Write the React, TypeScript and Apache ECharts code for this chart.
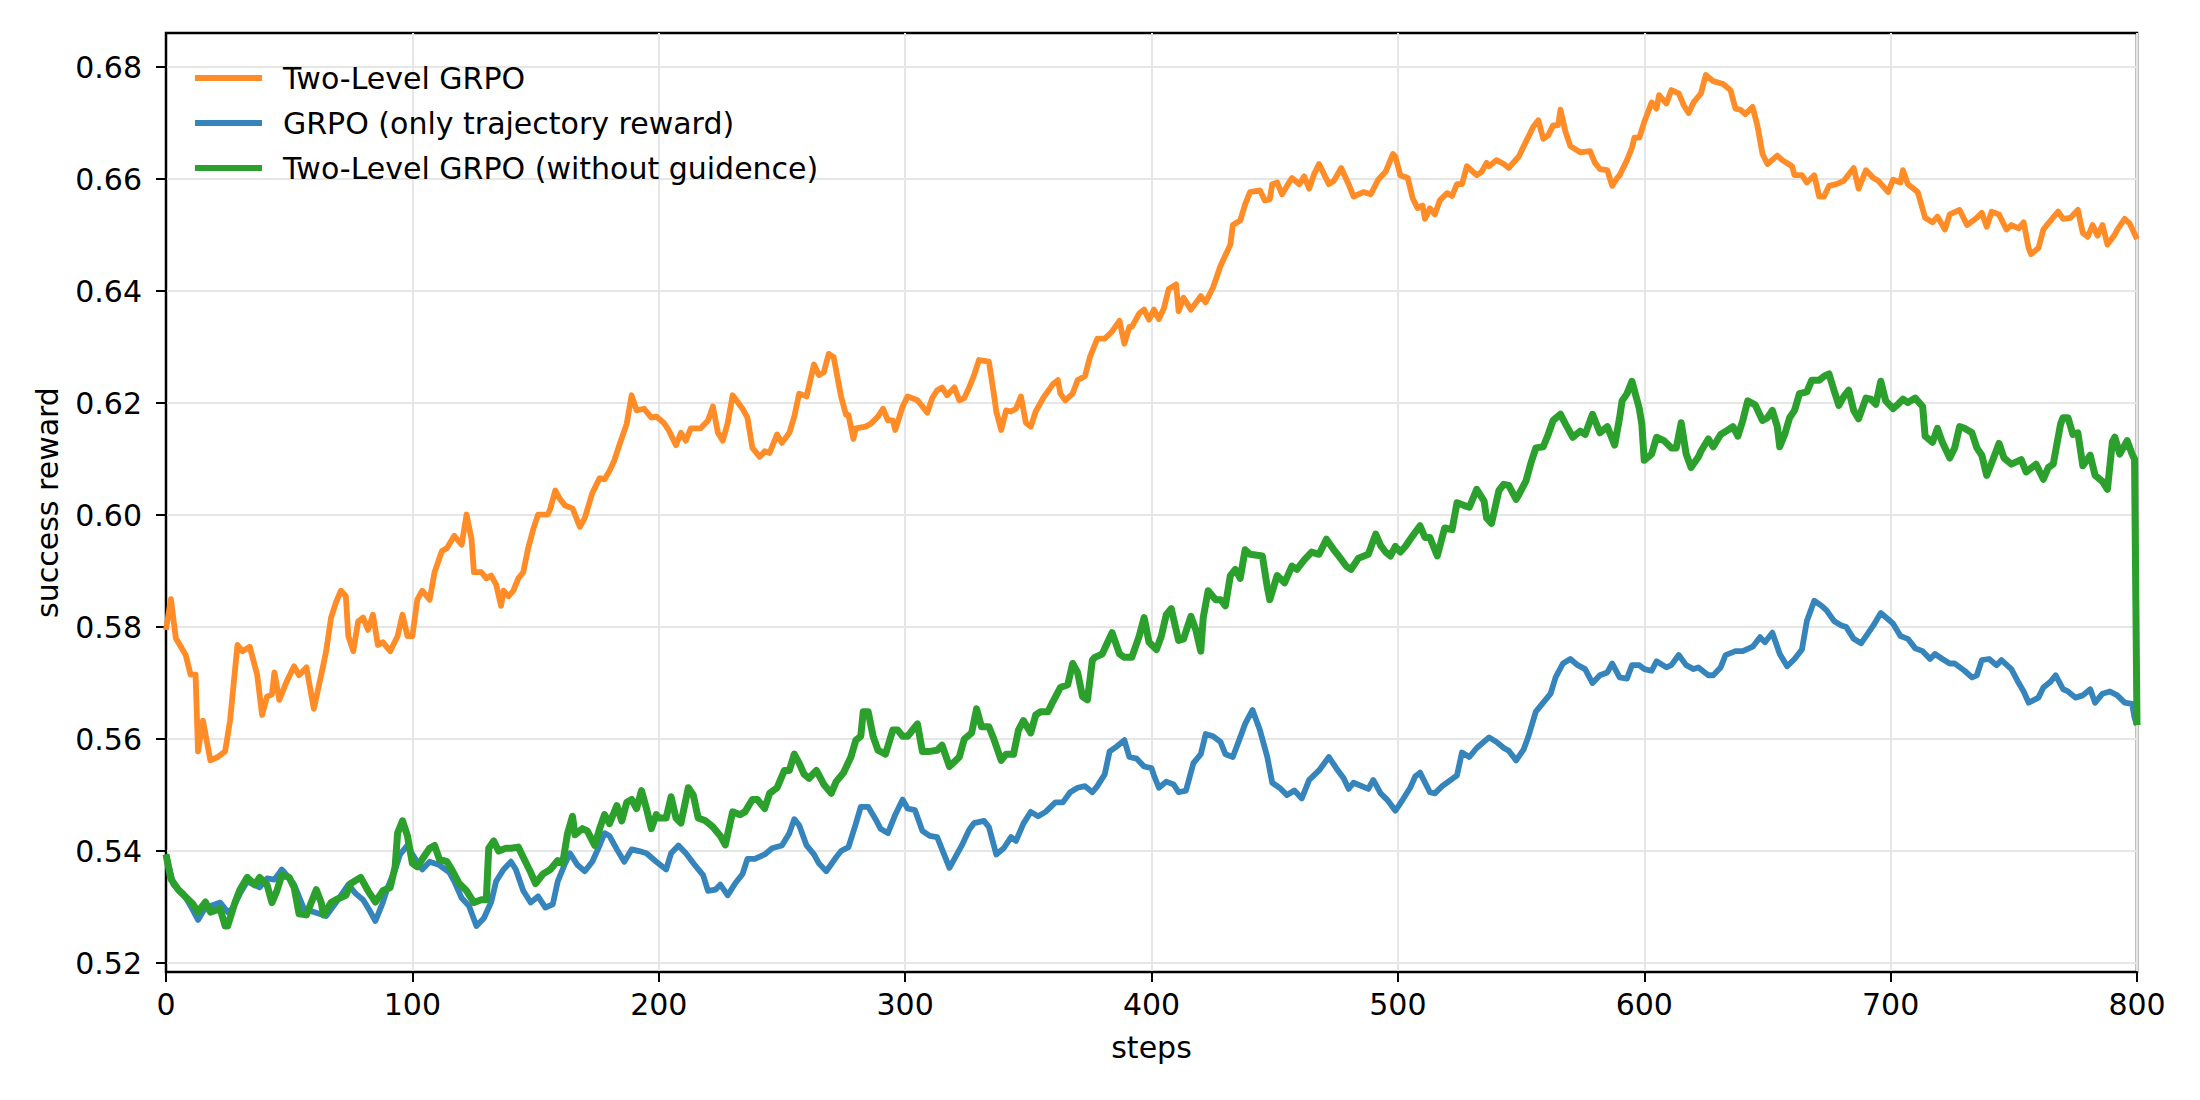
import { useEffect, useRef } from 'react';
import * as echarts from 'echarts';

// steps / reward, one pair of arrays per run
const twoLevelSteps = [
  0, 2, 4, 8, 10, 12, 13, 15, 18, 21, 24, 26, 29, 31, 34, 37, 39, 41, 43, 44, 46, 49, 52, 54, 57, 60, 64, 65, 67, 69,
  71, 73, 74, 76, 78, 80, 82, 84, 86, 88, 91, 94, 96, 98, 100, 102, 104, 107, 109, 112, 114, 117, 120, 122, 124, 125,
  128, 130, 132, 134, 136, 137, 139, 141, 143, 145, 147, 149, 151, 155, 156, 158, 160, 162, 165, 168, 170, 173, 176,
  178, 180, 182, 184, 187, 189, 191, 194, 197, 199, 202, 204, 207, 209, 211, 213, 217, 220, 222, 224, 226, 228, 230,
  234, 236, 238, 241, 243, 245, 248, 250, 253, 255, 257, 260, 263, 265, 267, 269, 271, 274, 276, 277, 279, 280, 284,
  286, 289, 291, 293, 295, 296, 299, 301, 305, 309, 311, 313, 315, 317, 320, 322, 324, 326, 328, 330, 334, 336, 337,
  339, 341, 343, 345, 347, 349, 351, 353, 356, 360, 362, 363, 365, 368, 370, 373, 375, 378, 381, 384, 387, 389, 391,
  392, 395, 397, 399, 401, 403, 405, 407, 410, 411, 413, 416, 420, 422, 425, 428, 432, 433, 436, 438, 440, 444, 446,
  448, 449, 451, 453, 455, 457, 460, 462, 464, 466, 468, 472, 474, 477, 480, 482, 486, 489, 492, 495, 498, 499, 501,
  504, 506, 508, 510, 511, 513, 515, 517, 520, 522, 524, 526, 528, 532, 534, 536, 537, 540, 543, 545, 549, 552, 555,
  557, 559, 561, 563, 565, 566, 568, 570, 574, 578, 580, 582, 585, 587, 589, 590, 593, 595, 596, 598, 600, 603, 605,
  606, 609, 611, 614, 616, 618, 620, 623, 625, 628, 632, 635, 637, 639, 641, 644, 646, 648, 650, 654, 656, 660, 661,
  664, 666, 669, 671, 673, 675, 678, 681, 685, 687, 690, 693, 695, 699, 701, 704, 705, 707, 711, 714, 717, 719, 721,
  722, 724, 728, 731, 735, 737, 739, 741, 744, 747, 749, 752, 754, 756, 757, 760, 762, 764, 768, 770, 773, 776, 778,
  780, 782, 784, 786, 788, 791, 792, 795, 797, 800,
];
const twoLevelReward = [
  0.5795, 0.585, 0.578, 0.575, 0.5715, 0.5715, 0.5578, 0.5633, 0.5562, 0.5568, 0.5578, 0.5633, 0.5768, 0.5757, 0.5765,
  0.5715, 0.5643, 0.5676, 0.568, 0.5719, 0.567, 0.5703, 0.573, 0.5714, 0.5728, 0.5654, 0.5735, 0.5757, 0.5817, 0.5844,
  0.5865, 0.5855, 0.5784, 0.5757, 0.581, 0.5817, 0.5795, 0.5822, 0.5768, 0.5773, 0.5757, 0.5784, 0.5822, 0.5784,
  0.5784, 0.5849, 0.5865, 0.5849, 0.5898, 0.5936, 0.5941, 0.5963, 0.5947, 0.6001, 0.5957, 0.5898, 0.5898, 0.5887,
  0.5892, 0.5876, 0.5838, 0.5865, 0.5855, 0.5865, 0.5887, 0.5898, 0.5941, 0.5974, 0.6001, 0.6001, 0.6012, 0.6044,
  0.6028, 0.6017, 0.6012, 0.5979, 0.5995, 0.6039, 0.6066, 0.6064, 0.6079, 0.6098, 0.6125, 0.6163, 0.6214, 0.6187,
  0.619, 0.6174, 0.6176, 0.6165, 0.6152, 0.6125, 0.6147, 0.6133, 0.6155, 0.6155, 0.6169, 0.6194, 0.6147, 0.6133,
  0.6165, 0.6214, 0.619, 0.6174, 0.612, 0.6104, 0.6114, 0.6111, 0.6144, 0.6129, 0.6147, 0.6176, 0.6217, 0.6212,
  0.6269, 0.625, 0.6255, 0.6288, 0.6282, 0.6212, 0.6179, 0.6179, 0.6136, 0.6155, 0.6158, 0.6163, 0.6176, 0.619,
  0.6169, 0.6169, 0.6152, 0.6194, 0.6212, 0.6205, 0.6183, 0.6209, 0.6223, 0.6228, 0.6214, 0.6228, 0.6205, 0.6209,
  0.6228, 0.625, 0.6277, 0.6274, 0.6217, 0.6185, 0.6152, 0.6187, 0.6185, 0.619, 0.6212, 0.6165, 0.6158, 0.6185,
  0.6209, 0.6234, 0.6241, 0.6217, 0.6205, 0.6217, 0.6241, 0.6248, 0.6282, 0.6315, 0.6315, 0.6328, 0.6347, 0.6306,
  0.6336, 0.6336, 0.636, 0.6367, 0.6349, 0.6367, 0.635, 0.6369, 0.6404, 0.6412, 0.6364, 0.6388, 0.6367, 0.6391,
  0.638, 0.6407, 0.6445, 0.6483, 0.6518, 0.6526, 0.6555, 0.6577, 0.658, 0.6562, 0.6564, 0.6591, 0.6594, 0.6573,
  0.6588, 0.6602, 0.6591, 0.6605, 0.6583, 0.6609, 0.6627, 0.6591, 0.6597, 0.662, 0.6591, 0.6569, 0.6577, 0.6573,
  0.6599, 0.6613, 0.6645, 0.664, 0.6607, 0.6602, 0.6566, 0.6548, 0.6553, 0.6529, 0.6548, 0.6537, 0.6562, 0.6575,
  0.657, 0.6591, 0.6591, 0.6623, 0.6607, 0.6613, 0.6629, 0.6623, 0.6634, 0.6627, 0.662, 0.664, 0.6667, 0.6694,
  0.6705, 0.6672, 0.6678, 0.6696, 0.6696, 0.6724, 0.6685, 0.6659, 0.6648, 0.665, 0.6629, 0.6618, 0.6616, 0.6588,
  0.6602, 0.6607, 0.6634, 0.6656, 0.6674, 0.6674, 0.6702, 0.6737, 0.6726, 0.675, 0.6735, 0.6759, 0.6753, 0.6732,
  0.6718, 0.6737, 0.6753, 0.6786, 0.6775, 0.677, 0.6759, 0.6726, 0.6724, 0.6716, 0.6729, 0.6694, 0.6645, 0.6627,
  0.6642, 0.6634, 0.6623, 0.6607, 0.6607, 0.6594, 0.6607, 0.6569, 0.6569, 0.6588, 0.6591, 0.6597, 0.662, 0.6583,
  0.6616, 0.6602, 0.6597, 0.6577, 0.6599, 0.6594, 0.6616, 0.6591, 0.6577, 0.6531, 0.6523, 0.6533, 0.6518, 0.651,
  0.6537, 0.6545, 0.6518, 0.6531, 0.654, 0.6515, 0.6542, 0.6537, 0.651, 0.6518, 0.6512, 0.6523, 0.6477, 0.6466,
  0.6477, 0.651, 0.6521, 0.6542, 0.6529, 0.6531, 0.6545, 0.6504, 0.6497, 0.6518, 0.6499, 0.6518, 0.6483, 0.6501,
  0.651, 0.6529, 0.6521, 0.6493,
];

const grpoSteps = [
  0, 3, 7, 10, 13, 16, 18, 22, 25, 27, 30, 33, 38, 41, 44, 47, 49, 52, 56, 60, 65, 69, 74, 77, 80, 83, 85, 88, 90, 93,
  95, 98, 100, 104, 107, 111, 115, 117, 120, 123, 126, 129, 132, 134, 137, 140, 142, 145, 148, 151, 154, 157, 159, 162,
  164, 167, 170, 173, 176, 178, 180, 183, 186, 189, 192, 195, 199, 203, 205, 208, 211, 215, 218, 220, 223, 225, 228,
  231, 234, 236, 239, 243, 246, 250, 253, 255, 257, 260, 263, 265, 268, 272, 274, 277, 280, 282, 285, 288, 290, 293,
  296, 299, 301, 304, 307, 310, 313, 315, 318, 320, 323, 326, 328, 332, 334, 337, 340, 343, 345, 348, 351, 354, 357,
  361, 364, 367, 370, 373, 376, 378, 381, 383, 386, 389, 391, 394, 397, 400, 401, 403, 406, 409, 411, 414, 417, 420,
  422, 425, 428, 430, 433, 436, 438, 441, 444, 447, 449, 452, 455, 458, 461, 464, 468, 472, 475, 478, 480, 482, 488,
  490, 493, 496, 499, 502, 505, 507, 509, 513, 515, 518, 524, 526, 529, 532, 537, 540, 543, 545, 548, 551, 553, 556,
  559, 562, 564, 567, 570, 573, 576, 579, 582, 585, 587, 590, 593, 595, 598, 600, 603, 605, 609, 611, 614, 617, 620,
  622, 626, 628, 631, 633, 637, 640, 644, 647, 649, 652, 655, 658, 661, 664, 666, 669, 672, 674, 677, 680, 682, 685,
  688, 691, 693, 696, 699, 701, 704, 707, 710, 713, 716, 718, 721, 724, 726, 730, 733, 735, 737, 740, 743, 745, 749,
  752, 754, 756, 760, 762, 765, 767, 770, 772, 775, 778, 781, 783, 786, 789, 792, 795, 798, 799, 800,
];
const grpoReward = [
  0.5394, 0.534, 0.5324, 0.5302, 0.5277, 0.5299, 0.5302, 0.5308, 0.5291, 0.5297, 0.5324, 0.5346, 0.5335, 0.5351,
  0.5349, 0.5367, 0.5357, 0.534, 0.5297, 0.5291, 0.5284, 0.5308, 0.534, 0.5324, 0.5313, 0.5291, 0.5275, 0.5308,
  0.5335, 0.5367, 0.5394, 0.541, 0.5394, 0.5367, 0.5381, 0.5375, 0.5362, 0.5346, 0.5316, 0.5302, 0.5266, 0.528,
  0.5309, 0.5346, 0.5367, 0.5381, 0.5367, 0.5329, 0.5308, 0.5319, 0.5299, 0.5305, 0.5346, 0.5378, 0.5396, 0.5375,
  0.5364, 0.5381, 0.541, 0.5432, 0.5427, 0.5403, 0.5381, 0.5403, 0.54, 0.5396, 0.5381, 0.5367, 0.5396, 0.541, 0.5396,
  0.5373, 0.5357, 0.5329, 0.5331, 0.534, 0.5321, 0.5342, 0.5359, 0.5386, 0.5386, 0.5394, 0.5405, 0.541, 0.5432,
  0.5457, 0.5446, 0.541, 0.5394, 0.5378, 0.5364, 0.5389, 0.54, 0.5407, 0.5449, 0.5479, 0.5479, 0.5457, 0.544, 0.5432,
  0.5465, 0.5492, 0.5476, 0.5473, 0.5436, 0.5427, 0.5425, 0.5403, 0.537, 0.5386, 0.541, 0.5438, 0.545, 0.5454,
  0.5443, 0.5394, 0.5405, 0.5425, 0.5418, 0.5449, 0.547, 0.5462, 0.547, 0.5487, 0.5487, 0.5505, 0.5513, 0.5516,
  0.5505, 0.5516, 0.5537, 0.5578, 0.5587, 0.5598, 0.5568, 0.5565, 0.5551, 0.5548, 0.5535, 0.5513, 0.5524, 0.5519,
  0.5505, 0.5508, 0.5557, 0.5573, 0.5609, 0.5605, 0.5595, 0.5573, 0.5568, 0.5603, 0.5627, 0.5652, 0.5616, 0.5568,
  0.5522, 0.5513, 0.55, 0.5508, 0.5494, 0.5527, 0.5544, 0.5568, 0.5548, 0.553, 0.5511, 0.5522, 0.5511, 0.5527,
  0.5503, 0.549, 0.5472, 0.5492, 0.5513, 0.5533, 0.554, 0.5505, 0.5503, 0.5516, 0.5535, 0.5576, 0.5568, 0.5584,
  0.5603, 0.5595, 0.5584, 0.5579, 0.5562, 0.5581, 0.5605, 0.5649, 0.5665, 0.5681, 0.571, 0.5735, 0.5743, 0.5732,
  0.5725, 0.57, 0.5714, 0.5719, 0.5735, 0.571, 0.5708, 0.5732, 0.5732, 0.5725, 0.5722, 0.5739, 0.5728, 0.5732,
  0.575, 0.5732, 0.5725, 0.5728, 0.5714, 0.5714, 0.5728, 0.575, 0.5757, 0.5757, 0.5765, 0.5782, 0.5773, 0.579,
  0.5752, 0.573, 0.5743, 0.576, 0.5811, 0.5847, 0.5838, 0.583, 0.5811, 0.5803, 0.58, 0.5779, 0.5771, 0.579, 0.5803,
  0.5825, 0.5814, 0.5806, 0.5784, 0.5779, 0.5762, 0.5757, 0.5743, 0.5752, 0.5743, 0.5735, 0.5735, 0.5722, 0.571,
  0.5714, 0.5741, 0.5743, 0.5732, 0.5741, 0.5725, 0.57, 0.5685, 0.5665, 0.5674, 0.5692, 0.5703, 0.5714, 0.5689,
  0.5685, 0.5674, 0.5678, 0.5689, 0.5665, 0.5681, 0.5685, 0.5678, 0.5665, 0.5663, 0.5638, 0.5625,
];

const noGuideSteps = [
  0, 2, 5, 8, 11, 13, 16, 18, 20, 22, 24, 25, 28, 30, 33, 36, 38, 41, 43, 45, 47, 50, 52, 54, 57, 61, 63, 64, 67, 69,
  73, 75, 79, 82, 85, 88, 91, 93, 94, 96, 98, 100, 102, 105, 107, 109, 111, 114, 116, 119, 122, 125, 128, 130, 131,
  133, 135, 138, 140, 143, 145, 148, 150, 153, 156, 159, 161, 163, 165, 166, 169, 171, 174, 176, 178, 180, 183, 185,
  187, 189, 191, 193, 195, 197, 199, 200, 203, 205, 207, 209, 212, 214, 216, 219, 222, 225, 227, 230, 233, 235, 238,
  240, 243, 245, 248, 251, 253, 255, 257, 259, 261, 264, 267, 270, 272, 275, 278, 280, 282, 283, 285, 287, 289, 292,
  295, 297, 299, 301, 305, 307, 310, 313, 315, 318, 322, 324, 327, 329, 331, 334, 336, 339, 341, 344, 346, 348, 351,
  353, 355, 358, 360, 363, 366, 368, 370, 372, 374, 376, 377, 380, 382, 384, 387, 389, 392, 395, 397, 399, 402, 404,
  406, 408, 411, 413, 416, 418, 420, 421, 423, 426, 428, 430, 432, 434, 436, 438, 440, 445, 447, 448, 451, 454, 457,
  459, 462, 465, 468, 471, 474, 476, 479, 481, 484, 488, 491, 493, 495, 497, 499, 501, 503, 506, 509, 511, 513, 516,
  519, 522, 524, 527, 529, 532, 535, 536, 538, 541, 543, 545, 548, 549, 552, 554, 556, 559, 561, 563, 566, 568, 571,
  574, 576, 579, 582, 585, 588, 590, 591, 593, 595, 598, 599, 600, 603, 605, 608, 611, 613, 615, 617, 619, 622, 623,
  626, 628, 631, 634, 636, 638, 640, 642, 645, 648, 650, 652, 654, 655, 657, 659, 661, 663, 666, 668, 671, 673, 675,
  677, 679, 681, 683, 685, 687, 690, 692, 694, 696, 698, 701, 703, 705, 707, 710, 713, 714, 717, 719, 721, 724, 726,
  728, 730, 733, 735, 737, 739, 741, 744, 746, 749, 753, 755, 759, 762, 764, 766, 769, 770, 772, 774, 776, 778, 781,
  783, 786, 788, 790, 791, 793, 796, 798, 799, 800,
];
const noGuideReward = [
  0.5394, 0.535, 0.5331, 0.5318, 0.5305, 0.5291, 0.5309, 0.5291, 0.5294, 0.5297, 0.5266, 0.5266, 0.5308, 0.5331,
  0.5353, 0.534, 0.5353, 0.534, 0.5308, 0.5329, 0.5357, 0.5353, 0.5335, 0.5288, 0.5286, 0.5331, 0.5308, 0.5286,
  0.5308, 0.5313, 0.5321, 0.5342, 0.5353, 0.5329, 0.5309, 0.5329, 0.5335, 0.5372, 0.5432, 0.5454, 0.5427, 0.5378,
  0.5372, 0.5392, 0.5405, 0.541, 0.5385, 0.5381, 0.5367, 0.5342, 0.5329, 0.5308, 0.5313, 0.5313, 0.5405, 0.5418,
  0.54, 0.5405, 0.5405, 0.5407, 0.5389, 0.5362, 0.5342, 0.5359, 0.5367, 0.5383, 0.5378, 0.5432, 0.5462, 0.5429,
  0.544, 0.5436, 0.541, 0.544, 0.5465, 0.5449, 0.5481, 0.5454, 0.5487, 0.5492, 0.5476, 0.5508, 0.5476, 0.544, 0.5465,
  0.5459, 0.5459, 0.5497, 0.5459, 0.545, 0.5513, 0.55, 0.5459, 0.5454, 0.5443, 0.5427, 0.5411, 0.547, 0.5465, 0.547,
  0.5492, 0.5492, 0.5476, 0.5503, 0.5513, 0.5544, 0.5544, 0.5573, 0.5557, 0.5537, 0.553, 0.5544, 0.5519, 0.5503,
  0.5524, 0.554, 0.5568, 0.5598, 0.5605, 0.5649, 0.5649, 0.5605, 0.558, 0.5573, 0.5616, 0.5616, 0.5605, 0.5605,
  0.5627, 0.5578, 0.5578, 0.558, 0.5589, 0.5551, 0.5568, 0.56, 0.5611, 0.5654, 0.5622, 0.5622, 0.56, 0.5562, 0.5573,
  0.5573, 0.5616, 0.5633, 0.5611, 0.5643, 0.5649, 0.5649, 0.5667, 0.5692, 0.5697, 0.5735, 0.5719, 0.5676, 0.567,
  0.5741, 0.5746, 0.5752, 0.5771, 0.579, 0.5752, 0.5746, 0.5746, 0.5784, 0.5817, 0.5773, 0.576, 0.5784, 0.5822,
  0.5833, 0.5776, 0.5779, 0.5819, 0.5795, 0.5757, 0.5817, 0.5865, 0.5849, 0.5849, 0.5838, 0.5892, 0.5903, 0.5887,
  0.5938, 0.593, 0.5927, 0.5871, 0.5849, 0.5892, 0.5879, 0.5909, 0.5903, 0.592, 0.5934, 0.593, 0.5957, 0.5938,
  0.5927, 0.5909, 0.5903, 0.5923, 0.593, 0.5966, 0.5946, 0.5934, 0.5927, 0.5944, 0.5934, 0.5944, 0.5963, 0.5981,
  0.596, 0.596, 0.5927, 0.5977, 0.5974, 0.6022, 0.6017, 0.6014, 0.6046, 0.6025, 0.5995, 0.5985, 0.6044, 0.6055,
  0.6053, 0.6028, 0.6036, 0.6061, 0.6093, 0.612, 0.6122, 0.6144, 0.6169, 0.618, 0.6163, 0.6139, 0.615, 0.6144,
  0.618, 0.6147, 0.6158, 0.6125, 0.6174, 0.6204, 0.6217, 0.6239, 0.619, 0.6163, 0.6098, 0.6109, 0.6139, 0.6133,
  0.612, 0.612, 0.6165, 0.6109, 0.6085, 0.6104, 0.6114, 0.6136, 0.6122, 0.6144, 0.6152, 0.6158, 0.6141, 0.6169,
  0.6204, 0.6197, 0.6169, 0.6174, 0.6187, 0.6158, 0.6122, 0.6144, 0.6174, 0.6187, 0.6217, 0.622, 0.6241, 0.6241,
  0.6248, 0.6252, 0.6223, 0.6196, 0.6212, 0.6223, 0.6187, 0.6172, 0.6209, 0.6207, 0.6198, 0.6239, 0.6204, 0.619,
  0.6198, 0.6207, 0.6201, 0.6209, 0.6194, 0.6141, 0.613, 0.6155, 0.613, 0.6102, 0.612, 0.6158, 0.6155, 0.6147,
  0.612, 0.6107, 0.6071, 0.6093, 0.6128, 0.6102, 0.6091, 0.6099, 0.6077, 0.6091, 0.6064, 0.6085, 0.6091, 0.6163,
  0.6174, 0.6174, 0.6144, 0.6147, 0.6088, 0.6107, 0.6071, 0.606, 0.6046, 0.6131, 0.6139, 0.6109, 0.6133, 0.6109,
  0.61, 0.5625,
];

const yTicks = [0.52, 0.54, 0.56, 0.58, 0.6, 0.62, 0.64, 0.66, 0.68];

const FONT = 'DejaVu Sans';
const FONT_SIZE = 30;
const gridLine = { color: '#e6e6e6', width: 2 };
const blackLine = { color: '#000000', width: 2 };

const pairs = (xs: number[], ys: number[]) => xs.map((x, i) => [x, ys[i]]);

export default function App() {
  const chartRef = useRef<HTMLDivElement>(null);

  useEffect(() => {
    document.body.style.margin = '0';
    if (!chartRef.current) return;
    const chart = echarts.init(chartRef.current, null, { renderer: 'svg' });

    const option: echarts.EChartsOption = {
      animation: false,
      backgroundColor: '#ffffff',
      grid: {
        left: 166,
        right: 63,
        top: 33,
        bottom: 128,
        show: true,
        borderColor: '#000000',
        borderWidth: 2.5,
      },
      legend: {
        orient: 'vertical',
        left: 190,
        top: 56,
        icon: 'rect',
        itemWidth: 67,
        itemHeight: 6,
        itemGap: 11,
        textStyle: {
          fontFamily: FONT,
          fontSize: FONT_SIZE,
          color: '#000000',
          lineHeight: 34,
          padding: [0, 0, 0, 16],
        },
      },
      xAxis: {
        type: 'value',
        min: 0,
        max: 800,
        interval: 100,
        name: 'steps',
        nameLocation: 'middle',
        nameGap: 60,
        nameTextStyle: { fontFamily: FONT, fontSize: FONT_SIZE, color: '#000000' },
        axisLine: { show: true, lineStyle: blackLine },
        axisTick: { show: true, length: 10, lineStyle: blackLine },
        axisLabel: { fontFamily: FONT, fontSize: FONT_SIZE, color: '#000000', margin: 17 },
        splitLine: { show: true, lineStyle: gridLine },
      },
      yAxis: {
        type: 'value',
        min: 0.5184,
        max: 0.6861,
        name: 'success reward',
        nameLocation: 'middle',
        nameGap: 104,
        nameTextStyle: { fontFamily: FONT, fontSize: FONT_SIZE, color: '#000000' },
        axisLine: { show: true, lineStyle: blackLine },
        axisTick: { show: true, length: 10, lineStyle: blackLine, customValues: yTicks },
        axisLabel: {
          fontFamily: FONT,
          fontSize: FONT_SIZE,
          color: '#000000',
          margin: 24,
          customValues: yTicks,
          formatter: (v: number) => v.toFixed(2),
        },
        splitLine: { show: true, lineStyle: gridLine },
      } as any,
      series: [
        {
          name: 'Two-Level GRPO',
          type: 'line',
          data: pairs(twoLevelSteps, twoLevelReward),
          symbol: 'none',
          color: '#ff8c27',
          lineStyle: { width: 5.8, color: '#ff8c27', join: 'round' } as any,
        },
        {
          name: 'GRPO (only trajectory reward)',
          type: 'line',
          data: pairs(grpoSteps, grpoReward),
          symbol: 'none',
          color: '#3585bc',
          lineStyle: { width: 5.8, color: '#3585bc', join: 'round' } as any,
        },
        {
          name: 'Two-Level GRPO (without guidence)',
          type: 'line',
          data: pairs(noGuideSteps, noGuideReward),
          symbol: 'none',
          color: '#2ca02c',
          lineStyle: { width: 7, color: '#2ca02c', join: 'round' } as any,
        },
      ],
    };

    chart.setOption(option);

    return () => {
      chart.dispose();
    };
  }, []);

  return <div ref={chartRef} style={{ width: 2200, height: 1100 }} />;
}
